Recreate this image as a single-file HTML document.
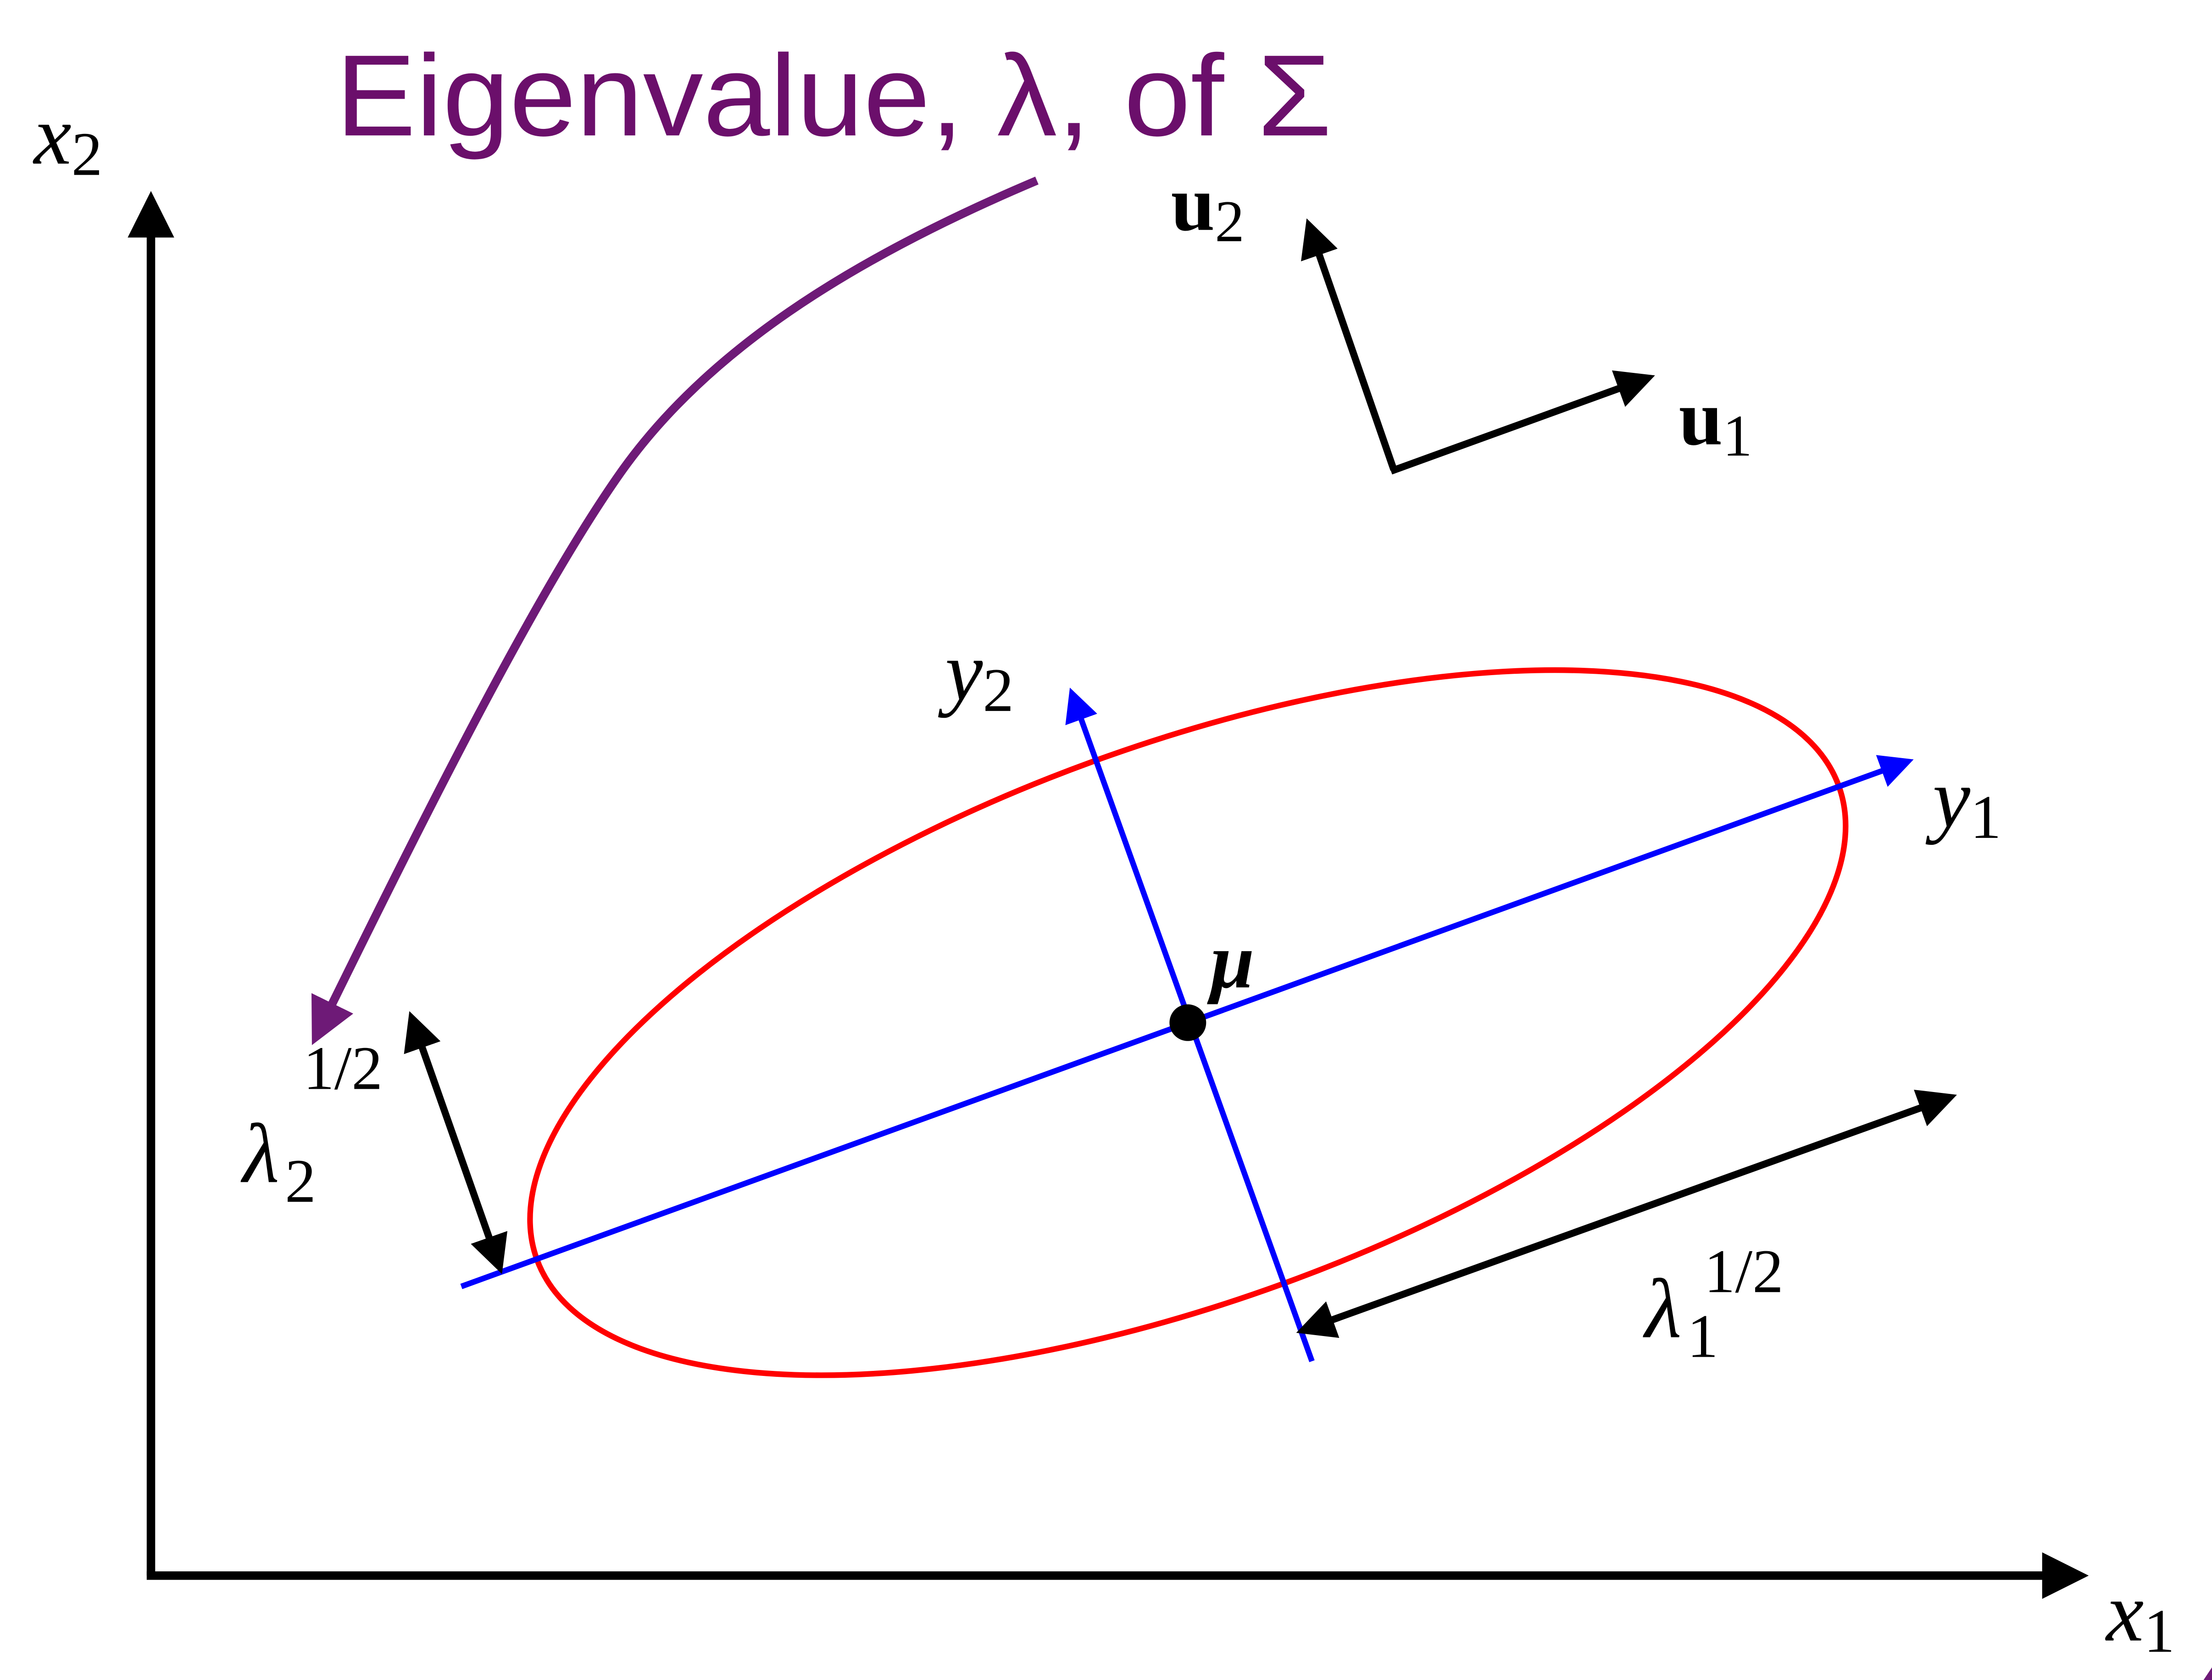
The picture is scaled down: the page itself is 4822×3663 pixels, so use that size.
<!DOCTYPE html>
<html><head><meta charset="utf-8"><style>
html,body{margin:0;padding:0;background:#fff;width:4822px;height:3663px;overflow:hidden}
svg{display:block}
.m{font-family:"Liberation Serif",serif;font-style:italic}
.r{font-family:"Liberation Serif",serif}
</style></head><body>
<svg width="4822" height="3663" viewBox="0 0 1568 1191" preserveAspectRatio="none" xmlns="http://www.w3.org/2000/svg">
<defs>
<marker id="ak" viewBox="0 0 10 10" refX="8" refY="5" markerWidth="5.5" markerHeight="5.5" orient="auto-start-reverse"><path d="M0,0 L10,5 L0,10 z" fill="#000"/></marker>
<marker id="ab" viewBox="0 0 10 10" refX="8" refY="5" markerWidth="6" markerHeight="6" orient="auto"><path d="M0,0 L10,5 L0,10 z" fill="#0000ff"/></marker>
<marker id="ap" viewBox="0 0 10 10" refX="8" refY="5" markerWidth="5.5" markerHeight="5.5" orient="auto"><path d="M0,0 L10,5 L0,10 z" fill="#6e1a77"/></marker>
</defs>
<rect width="1568" height="1191" fill="#fff"/>
<line x1="107" y1="1117" x2="107" y2="142" stroke="#000" stroke-width="6" marker-end="url(#ak)"/>
<line x1="104" y1="1117" x2="1474" y2="1117" stroke="#000" stroke-width="6" marker-end="url(#ak)"/>
<text class="m" x="24" y="116" font-size="60">x<tspan class="r" font-style="normal" font-size="44" dy="8">2</tspan></text>
<text class="m" x="1493" y="1163" font-size="60">x<tspan class="r" font-style="normal" font-size="44" dy="8">1</tspan></text>
<text x="238" y="96" font-family="'Liberation Sans',sans-serif" font-size="82" fill="#6b0f6b" textLength="706" lengthAdjust="spacingAndGlyphs">Eigenvalue, λ, of Σ</text>
<path d="M735,128 C600,185 500,250 440,335 S300,580 224,735" fill="none" stroke="#6e1a77" stroke-width="6" marker-end="url(#ap)"/>
<line x1="988" y1="333" x2="928" y2="160" stroke="#000" stroke-width="5" marker-end="url(#ak)"/>
<line x1="986" y1="334" x2="1168" y2="268" stroke="#000" stroke-width="5" marker-end="url(#ak)"/>
<text class="r" x="830" y="163" font-size="56" font-weight="bold">u<tspan font-weight="normal" font-size="42" dy="8">2</tspan></text>
<text class="r" x="1190" y="315" font-size="56" font-weight="bold">u<tspan font-weight="normal" font-size="42" dy="8">1</tspan></text>
<ellipse cx="842" cy="725" rx="491" ry="197" transform="rotate(-20 842 725)" fill="none" stroke="#ff0000" stroke-width="4"/>
<line x1="327" y1="912" x2="1352" y2="540" stroke="#0000ff" stroke-width="4" marker-end="url(#ab)"/>
<line x1="930" y1="965" x2="760" y2="492" stroke="#0000ff" stroke-width="4" marker-end="url(#ab)"/>
<circle cx="842" cy="725" r="13" fill="#000"/>
<text class="m" x="858" y="700" font-size="56" font-weight="bold">μ</text>
<text class="m" x="670" y="496" font-size="60">y<tspan class="r" font-style="normal" font-size="44" dy="8">2</tspan></text>
<text class="m" x="1370" y="586" font-size="60">y<tspan class="r" font-style="normal" font-size="44" dy="8">1</tspan></text>
<line x1="292" y1="722" x2="354" y2="898" stroke="#000" stroke-width="5" marker-start="url(#ak)" marker-end="url(#ak)"/>
<line x1="924" y1="943" x2="1382" y2="778" stroke="#000" stroke-width="5" marker-start="url(#ak)" marker-end="url(#ak)"/>
<text class="m" x="172" y="838" font-size="60">λ<tspan class="r" font-style="normal" font-size="44" dx="4" dy="14">2</tspan></text>
<text class="r" x="215" y="772" font-size="44">1/2</text>
<text class="m" x="1166" y="948" font-size="60">λ<tspan class="r" font-style="normal" font-size="44" dx="4" dy="14">1</tspan></text>
<text class="r" x="1208" y="916" font-size="44">1/2</text>
<path d="M1568,1182 L1568,1191 L1562,1191 z" fill="#6e1a77"/>
</svg>
</body></html>
